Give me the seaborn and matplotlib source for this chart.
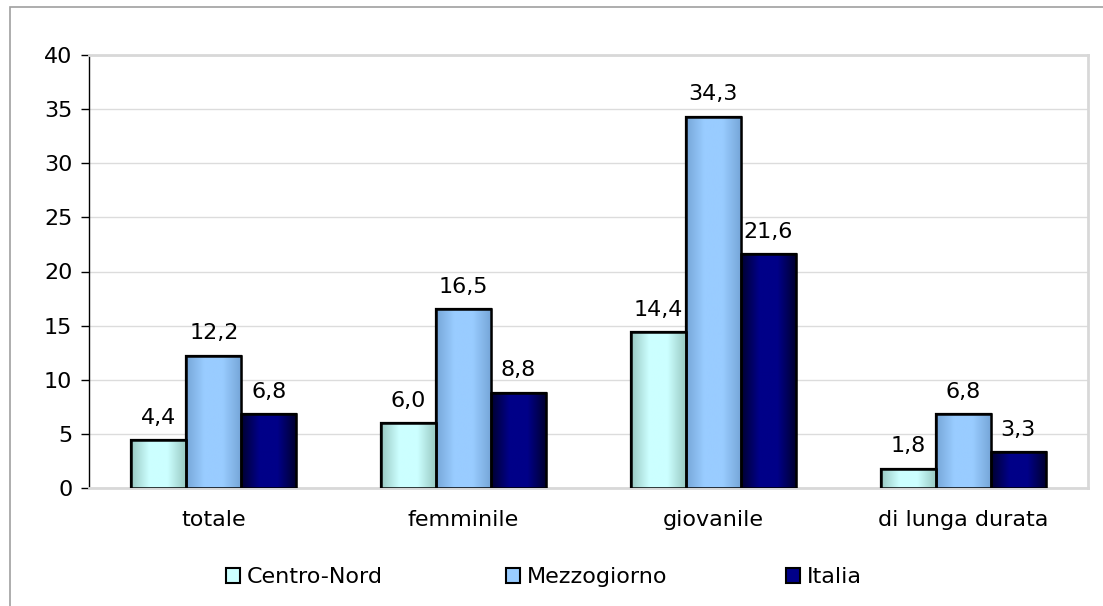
import numpy as np
import pandas as pd
import matplotlib
matplotlib.use('Agg')
import matplotlib.pyplot as plt
import seaborn as sns
from matplotlib.patches import Rectangle
from matplotlib.colors import LinearSegmentedColormap

# Data
categories = ['totale', 'femminile', 'giovanile', 'di lunga durata']
series = ['Centro-Nord', 'Mezzogiorno', 'Italia']
centro_nord = [4.4, 6.0, 14.4, 1.8]
mezzogiorno = [12.2, 16.5, 34.3, 6.8]
italia = [6.8, 8.8, 21.6, 3.3]

data = pd.DataFrame({
    'Categoria': categories * 3,
    'Area': np.repeat(series, len(categories)),
    'Valore': centro_nord + mezzogiorno + italia,
})

# edge / centre colours for the horizontal gradient of each series
edge_cols = {'Centro-Nord': '#98c8c2', 'Mezzogiorno': '#76a6d8', 'Italia': '#000030'}
mid_cols = {'Centro-Nord': '#ccffff', 'Mezzogiorno': '#99ccff', 'Italia': '#000088'}
palette = {k: mid_cols[k] for k in series}

sns.set_style('white')
plt.rcParams['font.family'] = ['DejaVu Sans']
plt.rcParams['text.color'] = 'black'
plt.rcParams['xtick.color'] = 'black'
plt.rcParams['ytick.color'] = 'black'

W, H = 1103, 606
fig = plt.figure(figsize=(W / 100, H / 100), dpi=100)
ax = fig.add_axes([89 / W, 1 - 488 / H, (1088 - 89) / W, (488 - 55) / H])

sns.barplot(data=data, x='Categoria', y='Valore', hue='Area', order=categories,
            hue_order=series, palette=palette, width=0.66, ax=ax,
            edgecolor='black', linewidth=1.6, saturation=1, legend=False, zorder=3)

ax.set_ylim(0, 40)
ax.set_xlim(-0.5, len(categories) - 0.5)
ax.set_yticks(range(0, 41, 5))
ax.yaxis.grid(True, color='#dcdcdc', linewidth=1, zorder=0)
ax.set_axisbelow(True)

# gradient fill clipped to each bar
for cont, name in zip(ax.containers, series):
    cmap = LinearSegmentedColormap.from_list(name, [edge_cols[name], mid_cols[name], mid_cols[name], edge_cols[name]])
    grad = np.linspace(0, 1, 256).reshape(1, -1)
    for bar in cont:
        x0, w, h = bar.get_x(), bar.get_width(), bar.get_height()
        im = ax.imshow(grad, cmap=cmap, aspect='auto', extent=[x0, x0 + w, 0, h], zorder=3.5)
        im.set_clip_path(bar)
        ax.add_patch(Rectangle((x0, 0), w, h, fill=False, edgecolor='black', linewidth=1.8, zorder=4))
    labels = [f'{v:.1f}'.replace('.', ',') for v in cont.datavalues]
    ax.bar_label(cont, labels=labels, padding=9, fontsize=16, color='black')

ax.set_xlim(-0.5, len(categories) - 0.5)
ax.set_ylim(0, 40)
ax.set_xlabel('')
ax.set_ylabel('')

# plot-area border: light grey on top, right and bottom, black value axis on the left
for side in ['top', 'right', 'bottom']:
    ax.spines[side].set_visible(True)
    ax.spines[side].set_color('#d8d8d8')
    ax.spines[side].set_linewidth(2)
ax.spines['left'].set_color('black')
ax.spines['left'].set_linewidth(1)

ax.tick_params(axis='y', which='major', length=6, width=1, color='black', direction='out',
               labelsize=16, pad=6, left=True)
ax.tick_params(axis='x', which='major', length=0, labelsize=16, pad=16)

# legend: one entry per slot, like the spreadsheet legend
legend_x = [226, 506, 786]
for name, lx in zip(series, legend_x):
    h = Rectangle((0, 0), 1, 1, facecolor=mid_cols[name], edgecolor='black', linewidth=1.5)
    fig.legend([h], [name], loc='center left', bbox_to_anchor=(lx / W, 1 - 577 / H),
               frameon=False, fontsize=16, handlelength=0.65, handleheight=0.65,
               handletextpad=0.3, borderpad=0, borderaxespad=0)

# outer frame (only left and top edges fall inside the image)
fig.patches.append(Rectangle((10 / W, -0.05), 1.2, 1.05 - 7 / H, transform=fig.transFigure,
                             fill=False, edgecolor='#a0a0a0', linewidth=1.2))

fig.savefig('out.png', dpi=100)
